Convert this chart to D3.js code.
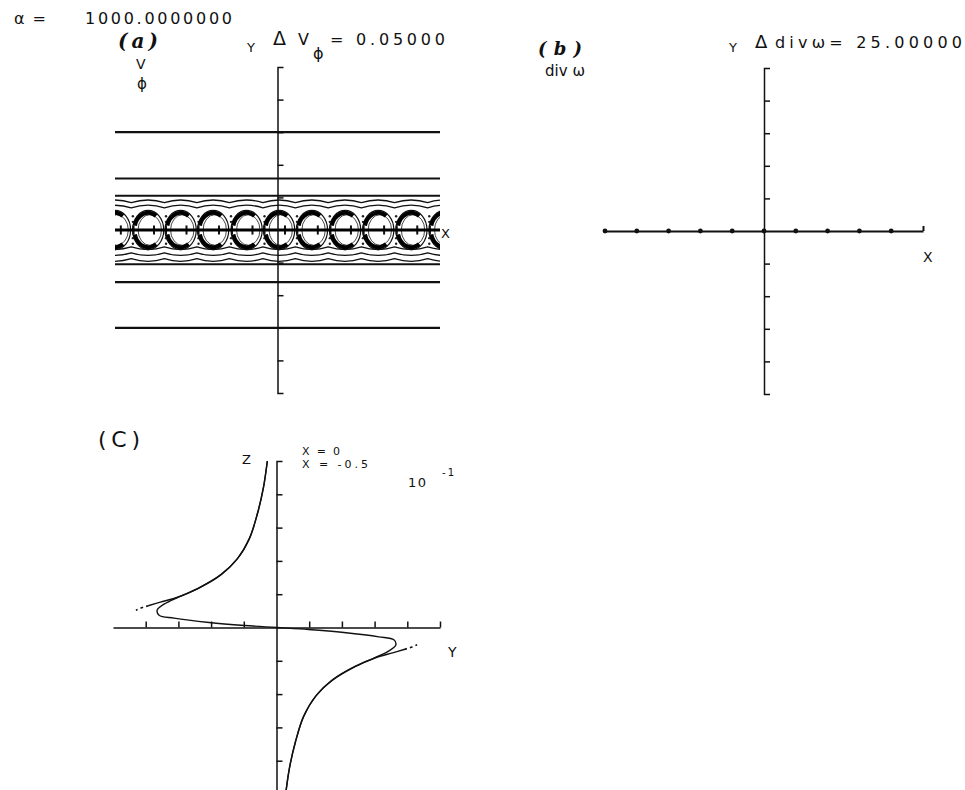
<!DOCTYPE html>
<html>
<head>
<meta charset="utf-8">
<script src="https://cdn.jsdelivr.net/npm/d3@7"></script>
<style>
  body { margin: 0; background: #fff; }
  svg { display: block; }
  text { font-family: "DejaVu Sans", sans-serif; fill: #111; }
  .hand { font-family: "DejaVu Serif", serif; font-style: italic; font-weight: bold; }
</style>
</head>
<body>
<svg id="svg" width="965" height="790"></svg>
<script>
// ---- data ----
// panel (a): straight contour levels of V_phi (in plot units), wavy levels and cell centres
const straightLevels = [3.0, 1.58, 1.05, -1.05, -1.6, -3.0];
const wavyLevels = [0.84, 0.68, -0.52, -0.7, -0.88];
const cellCentres = [-5.0, -3.98, -2.98, -1.98, -0.95, 0.05, 1.06, 2.08, 3.1, 4.12];
const axisTicks = [-4, -3, -2, -1, 1, 2, 3, 4];
const xTicksB = [-5, -4, -3, -2, -1, 0, 1, 2, 3, 4, 5];
const xTicksC = [-4, -3, -2, -1, 1, 2, 3, 4, 5];

// panel (c): profiles Y(z), x = 0 and x = -0.5
const profX0 = [
  [-0.28, 5.0], [-0.40, 4.2], [-0.58, 3.43], [-0.83, 2.67], [-1.2, 2.06],
  [-1.69, 1.6], [-2.36, 1.2], [-2.98, 0.92], [-3.44, 0.7], [-3.65, 0.52],
  [-3.59, 0.37], [-3.13, 0.28], [-2.06, 0.15], [-0.98, 0.06], [0, 0],
  [0.98, -0.06], [2.06, -0.15], [3.13, -0.28], [3.59, -0.37], [3.65, -0.52],
  [3.44, -0.7], [2.98, -0.92], [2.36, -1.2], [1.69, -1.6], [1.2, -2.06],
  [0.83, -2.67], [0.58, -3.43], [0.40, -4.2], [0.28, -5.0]
];
const profX05Top = [
  [-0.28, 5.0], [-0.40, 4.2], [-0.58, 3.43], [-0.83, 2.67], [-1.2, 2.06],
  [-1.7, 1.58], [-2.4, 1.17], [-3.05, 0.9], [-3.55, 0.76], [-3.9, 0.66]
];
const tailX05Top = [[-3.9, 0.66], [-4.1, 0.6], [-4.3, 0.52]];
const profX05Bot = [
  [0.28, -5.0], [0.40, -4.2], [0.58, -3.43], [0.83, -2.67], [1.2, -2.06],
  [1.7, -1.58], [2.4, -1.17], [3.05, -0.9], [3.55, -0.76], [3.9, -0.66]
];
const tailX05Bot = [[3.9, -0.66], [4.1, -0.6], [4.3, -0.52]];

const svg = d3.select("#svg");

// ---------- panel (a) ----------
const xA = d3.scaleLinear().domain([-5, 5]).range([115, 440]);
const yA = d3.scaleLinear().domain([-5, 5]).range([393, 67]);

svg.append("clipPath").attr("id", "clipA")
  .append("rect").attr("x", xA(-5)).attr("y", yA(5)).attr("width", xA(5) - xA(-5)).attr("height", yA(-5) - yA(5));

const gA = svg.append("g").attr("clip-path", "url(#clipA)");

gA.selectAll(".lvl").data(straightLevels).join("line")
  .attr("x1", xA(-5)).attr("x2", xA(5))
  .attr("y1", d => yA(d)).attr("y2", d => yA(d))
  .style("stroke", "#111").style("stroke-width", 2.2);

// wavy contours: one bump per cell
wavyLevels.forEach(lv => {
  const p = d3.path();
  const s = lv > 0 ? 1 : -1;
  p.moveTo(xA(-5.6), yA(lv));
  cellCentres.concat([5.14]).forEach(c => {
    p.quadraticCurveTo(xA(c), yA(lv + s * 0.16), xA(c + 0.5), yA(lv));
  });
  gA.append("path").attr("d", p.toString())
    .style("fill", "none").style("stroke", "#111").style("stroke-width", 1.3);
});

// cells of the band
const rx = xA(0.48) - xA(0), ry = yA(0) - yA(0.6);
const cells = gA.selectAll(".cell").data(cellCentres.concat([5.14])).join("g");
cells.append("ellipse")
  .attr("cx", d => xA(d)).attr("cy", yA(0)).attr("rx", rx).attr("ry", ry)
  .style("fill", "none").style("stroke", "#111").style("stroke-width", 1.2);
cells.append("ellipse")
  .attr("cx", d => xA(d + 0.05)).attr("cy", yA(0)).attr("rx", rx * 0.75).attr("ry", ry * 0.78)
  .style("fill", "none").style("stroke", "#333").style("stroke-width", 0.9);
// dark crescents: over the top and under the bottom, open to the right
const arcPath = (d, a1, a2) => {
  const cx = xA(d), cy = yA(0), r1 = a1 * Math.PI / 180, r2 = a2 * Math.PI / 180;
  return `M${cx + rx * 0.88 * Math.cos(r1)},${cy - ry * 0.88 * Math.sin(r1)} A${rx * 0.88},${ry * 0.88} 0 0 0 ${cx + rx * 0.88 * Math.cos(r2)},${cy - ry * 0.88 * Math.sin(r2)}`;
};
cells.append("path").attr("d", d => arcPath(d, 55, 165))
  .style("fill", "none").style("stroke", "#000").style("stroke-width", 4);
cells.append("path").attr("d", d => arcPath(d, 195, 305))
  .style("fill", "none").style("stroke", "#000").style("stroke-width", 4);
// spikes on the centre line
[-0.45, 0.18].forEach(o => {
  cells.append("line")
    .attr("x1", d => xA(d + o)).attr("x2", d => xA(d + o))
    .attr("y1", yA(0.14)).attr("y2", yA(-0.14))
    .style("stroke", "#111").style("stroke-width", 2);
});
// dots between cells
[0.25, -0.25, 0.42, -0.42].forEach(o => {
  cells.append("circle")
    .attr("cx", d => xA(d + 0.55)).attr("cy", yA(o)).attr("r", 1.2)
    .style("fill", "#222");
});
gA.append("line")
  .attr("x1", xA(-5)).attr("x2", xA(5)).attr("y1", yA(0)).attr("y2", yA(0))
  .style("stroke", "#000").style("stroke-width", 3);

svg.append("g").attr("transform", `translate(${xA(0)},0)`)
  .call(d3.axisRight(yA).tickValues(axisTicks).tickSizeInner(6).tickSizeOuter(6).tickFormat(""))
  .call(g => g.selectAll("path,line").style("stroke", "#111").style("stroke-width", 1.5));

// ---------- panel (b) ----------
const xB = d3.scaleLinear().domain([-5, 5]).range([605, 923]);
const yB = d3.scaleLinear().domain([-5, 5]).range([394, 68]);

svg.append("g").attr("transform", `translate(0,${yB(0)})`)
  .call(d3.axisTop(xB).tickValues([5]).tickSizeInner(5).tickSizeOuter(0).tickFormat(""))
  .call(g => g.selectAll("path,line").style("stroke", "#111").style("stroke-width", 2));
svg.append("g").selectAll("circle").data(xTicksB.slice(0, -1)).join("circle")
  .attr("cx", d => xB(d)).attr("cy", yB(0)).attr("r", 2.4).style("fill", "#111");
svg.append("g").attr("transform", `translate(${xB(0)},0)`)
  .call(d3.axisRight(yB).tickValues(axisTicks).tickSizeInner(6).tickSizeOuter(6).tickFormat(""))
  .call(g => g.selectAll("path,line").style("stroke", "#111").style("stroke-width", 1.5));

// ---------- panel (c) ----------
const yC = d3.scaleLinear().domain([-5, 5]).range([113, 440]);
const zC = d3.scaleLinear().domain([-5, 5]).range([794, 461]);

svg.append("g").attr("transform", `translate(0,${zC(0)})`)
  .call(d3.axisTop(yC).tickValues(xTicksC).tickSizeInner(6).tickSizeOuter(0).tickFormat(""))
  .call(g => g.selectAll("path,line").style("stroke", "#111").style("stroke-width", 1.5));
svg.append("g").attr("transform", `translate(${yC(0)},0)`)
  .call(d3.axisRight(zC).tickValues(axisTicks).tickSizeInner(6).tickSizeOuter(6).tickFormat(""))
  .call(g => g.selectAll("path,line").style("stroke", "#111").style("stroke-width", 1.5));

const lineC = d3.line().x(d => yC(d[0])).y(d => zC(d[1])).curve(d3.curveCatmullRom.alpha(0.5));
svg.append("path").attr("d", lineC(profX0))
  .style("fill", "none").style("stroke", "#111").style("stroke-width", 1.4);
[profX05Top, profX05Bot].forEach(p => {
  svg.append("path").attr("d", lineC(p))
    .style("fill", "none").style("stroke", "#111").style("stroke-width", 1.4);
});
[tailX05Top, tailX05Bot].forEach(p => {
  svg.append("path").attr("d", lineC(p))
    .style("fill", "none").style("stroke", "#111").style("stroke-width", 1.6)
    .style("stroke-dasharray", "3,3");
});

// ---------- texts ----------
const txt = (x, y, s, size, len, cls) => {
  const t = svg.append("text").attr("x", x).attr("y", y).style("font-size", size + "px").text(s);
  if (len) t.attr("textLength", len).attr("lengthAdjust", "spacing");
  if (cls) t.attr("class", cls);
  return t;
};

txt(14, 24, "α =", 16, 32);
txt(85, 24, "1000.0000000", 16, 147);
txt(118, 48, "(a)", 20, 40, "hand");
txt(247, 52, "Y", 13);
txt(273, 45, "Δ", 19);
txt(298, 45, "V", 16);
txt(313, 59, "ϕ", 16);
txt(330, 45, "= 0.05000", 16, 115);
txt(136, 69, "V", 14);
txt(137, 89, "ϕ", 15);
txt(441, 238, "X", 13);

txt(538, 55, "(b)", 18, 44, "hand");
txt(545, 76, "div ω", 15, 40);
txt(729, 52, "Y", 13);
txt(755, 48, "Δ", 18);
txt(775, 48, "divω= 25.00000", 16, 187);
txt(923, 262, "X", 14);

txt(98, 447, "(C)", 22, 42);
txt(242, 464, "Z", 13);
txt(302, 455, "X = 0", 11, 38);
txt(302, 468, "X = -0.5", 11, 66);
txt(408, 487, "10", 13, 18);
txt(442, 476, "-1", 10, 12);
txt(448, 657, "Y", 14);
</script>
</body>
</html>
